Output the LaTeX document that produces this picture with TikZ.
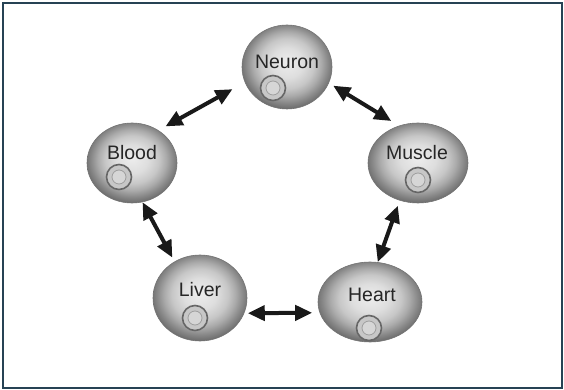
\documentclass[tikz,border=0pt]{standalone}
\usepackage{fontspec}
\setmainfont{Liberation Sans}
\usetikzlibrary{arrows.meta,shapes.geometric,calc}

\pgfdeclareradialshading{cellshade}{\pgfpoint{0bp}{3bp}}{%
  color(0bp)=(black!7); color(9bp)=(black!13); color(15bp)=(black!22);
  color(19bp)=(black!33); color(23bp)=(black!47); color(27bp)=(black!60);
  color(50bp)=(black!62)}
\definecolor{framecol}{RGB}{38,66,84}

\begin{document}
\begin{tikzpicture}[x=1pt, y=1pt,
      cell/.style={ellipse, shading=cellshade, draw=black!55, line width=0.6pt, inner sep=0pt},
      celltext/.style={inner sep=0pt, text=black!85, font=\fontsize{19.5}{22}\selectfont},
      nucleus/.style={circle, minimum size=25pt, inner sep=0pt, fill=black!22, draw=black!60, line width=1.6pt,
        path picture={\draw[black!38, line width=0.8pt, fill=black!16] (path picture bounding box.center) circle (7pt);}},
      link/.style={{Triangle[length=17pt,width=15pt]}-{Triangle[length=17pt,width=15pt]}, line width=4pt, black!90}
    ]
    \useasboundingbox (0,0) rectangle (564,390);
    \draw[framecol, line width=1.5pt] (3,2) rectangle (562,387);
    % cells
    \node[cell, minimum width=90pt, minimum height=84pt] (neuron) at (287,323) {};
    \node[cell, minimum width=90pt, minimum height=80pt] (blood) at (132,227) {};
    \node[cell, minimum width=100pt, minimum height=80pt] (muscle) at (418,227) {};
    \node[cell, minimum width=94pt, minimum height=86pt] (liver) at (200,92) {};
    \node[cell, minimum width=104pt, minimum height=80pt] (heart) at (370,88) {};
    % names
    \node[celltext] (neuronlbl) at ([yshift=5pt]neuron) {Neuron};
    \node[celltext] (bloodlbl) at ([yshift=10pt]blood) {Blood};
    \node[celltext] (musclelbl) at ([xshift=-1pt,yshift=10pt]muscle) {Muscle};
    \node[celltext] (liverlbl) at ([yshift=8pt]liver) {Liver};
    \node[celltext] (heartlbl) at ([xshift=2pt,yshift=7pt]heart) {Heart};
    % nuclei
    \node[nucleus] (neuronnuc) at ([xshift=-14pt,yshift=-21pt]neuron) {};
    \node[nucleus] (bloodnuc) at ([xshift=-13pt,yshift=-14pt]blood) {};
    \node[nucleus] (musclenuc) at ([yshift=-17pt]muscle) {};
    \node[nucleus] (livernuc) at ([xshift=-5pt,yshift=-20pt]liver) {};
    \node[nucleus] (heartnuc) at ([xshift=-1pt,yshift=-26pt]heart) {};
    % exchanges
    \draw[link, shorten <=8pt, shorten >=14pt] (blood.51.5) -- (neuron.200);
    \draw[link, shorten <=5pt, shorten >=9pt] (neuron.-21.4) -- (muscle.117);
    \draw[link, shorten <=0pt, shorten >=4.5pt] (blood.-75.6) -- (liver.125);
    \draw[link, shorten <=5.5pt, shorten >=0pt] (muscle.-116.6) -- (heart.79.8);
    \draw[link, shorten <=3.5pt, shorten >=7.4pt] (liver.-19.9) -- (heart.192.8);
  \end{tikzpicture}
\end{document}
